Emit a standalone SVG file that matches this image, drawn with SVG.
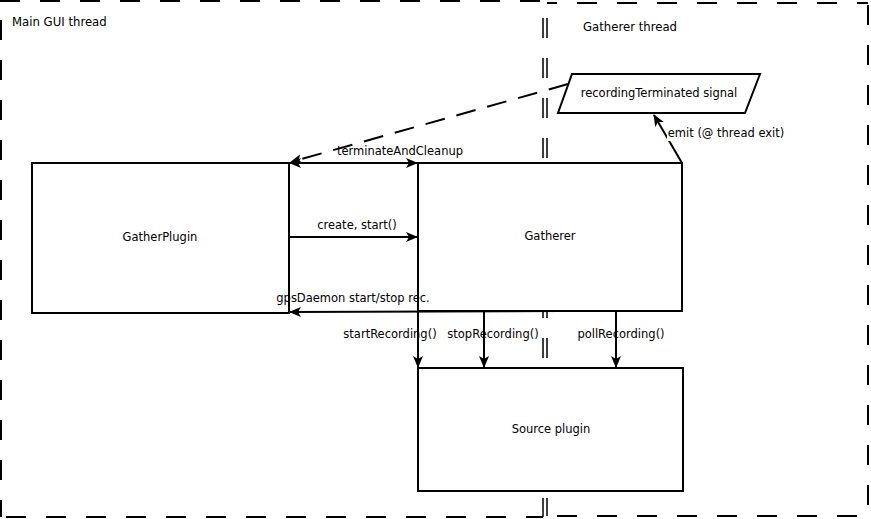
<svg xmlns="http://www.w3.org/2000/svg" width="871" height="519" viewBox="0 0 871 519">
<style>
  text { font-family: "DejaVu Sans", "Liberation Sans", sans-serif; font-size: 11.5px; fill: #000; }
  .title { font-size: 11.7px; }
  .box { fill: #fff; stroke: #000; stroke-width: 2; }
  .thread { fill: none; stroke: #000; stroke-width: 2; stroke-dasharray: 20 20; }
  .thin { stroke-width: 1.5; }
  .conn { fill: none; stroke: #000; stroke-width: 2; }
  .dashed { stroke-dasharray: 20 12; }
</style>
<defs>
  <marker id="arr" viewBox="0 0 12 10" refX="11" refY="5" markerWidth="12" markerHeight="10" markerUnits="userSpaceOnUse" orient="auto-start-reverse">
    <path d="M0,0 L12,5 L0,10 L3,5 z" fill="#000"/>
  </marker>
</defs>
<g id="main-gui-thread">
  <line class="thread" x1="0" y1="1" x2="543" y2="1"/>
  <line class="thread" x1="1" y1="0" x2="1" y2="517" stroke-dashoffset="20"/>
  <line class="thread thin" x1="543" y1="0" x2="543" y2="517" stroke-dashoffset="22"/>
  <line class="thread" x1="1" y1="517" x2="543" y2="517" stroke-dashoffset="35"/>
  <text class="title" x="12" y="26">Main GUI thread</text>
</g>
<g id="gatherer-thread">
  <line class="thread" x1="547" y1="3" x2="868" y2="3" stroke-dashoffset="10"/>
  <line class="thread thin" x1="547" y1="0" x2="547" y2="516" stroke-dashoffset="22"/>
  <line class="thread" x1="868" y1="0" x2="868" y2="516" stroke-dashoffset="35"/>
  <line class="thread" x1="547" y1="516" x2="868" y2="516" stroke-dashoffset="30"/>
  <text class="title" x="583" y="31">Gatherer thread</text>
</g>
<g id="gatherplugin">
  <rect class="box" x="32" y="163" width="257" height="150"/>
  <text x="160" y="241" text-anchor="middle">GatherPlugin</text>
</g>
<g id="gatherer">
  <rect class="box" x="418" y="163" width="264" height="148"/>
  <text x="550" y="240" text-anchor="middle">Gatherer</text>
</g>
<g id="source-plugin">
  <rect class="box" x="418" y="368" width="265" height="123"/>
  <text x="551" y="433" text-anchor="middle">Source plugin</text>
</g>
<g id="recording-terminated-signal">
  <polygon class="box" points="572,74 760,74 745,113 558,113"/>
  <text x="659" y="97" text-anchor="middle">recordingTerminated signal</text>
</g>
<g id="connectors">
  <line class="conn dashed" x1="568" y1="84" x2="291" y2="162" marker-end="url(#arr)"/>
  <line class="conn" x1="290" y1="163" x2="417" y2="163" marker-start="url(#arr)" marker-end="url(#arr)"/>
  <text x="400" y="155" text-anchor="middle">terminateAndCleanup</text>
  <line class="conn" x1="289" y1="237" x2="417" y2="237" marker-end="url(#arr)"/>
  <text x="357" y="229" text-anchor="middle">create, start()</text>
  <line class="conn" x1="560" y1="311" x2="290" y2="312" marker-end="url(#arr)"/>
  <text x="353" y="302" text-anchor="middle">gpsDaemon start/stop rec.</text>
  <line class="conn" x1="418" y1="311" x2="418" y2="367" marker-end="url(#arr)"/>
  <text x="390" y="338" text-anchor="middle">startRecording()</text>
  <line class="conn" x1="484" y1="311" x2="484" y2="367" marker-end="url(#arr)"/>
  <text x="493" y="338" text-anchor="middle">stopRecording()</text>
  <line class="conn" x1="616" y1="311" x2="616" y2="367" marker-end="url(#arr)"/>
  <text x="621" y="338" text-anchor="middle">pollRecording()</text>
  <line class="conn" x1="682" y1="163" x2="654" y2="115" marker-end="url(#arr)"/>
  <rect x="667" y="125" width="119" height="16" fill="#fff"/>
  <text x="726" y="137" text-anchor="middle">emit (@ thread exit)</text>
</g>
</svg>
